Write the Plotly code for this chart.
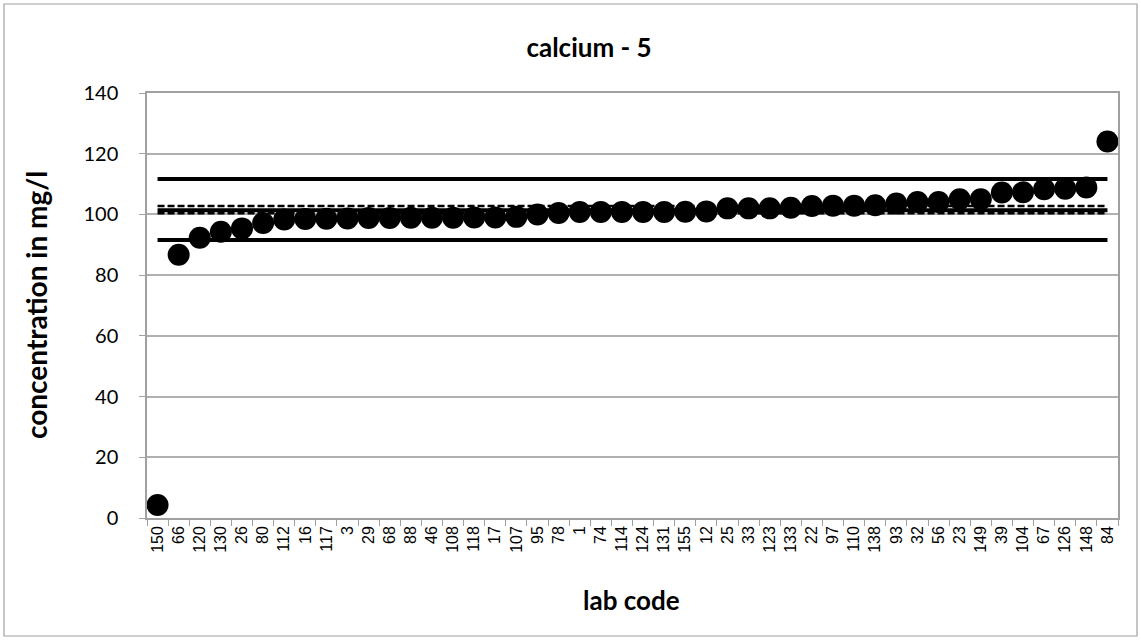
import plotly.graph_objects as go

lab_codes = ["150", "66", "120", "130", "26", "80", "112", "16", "117", "3", "29", "68",
             "88", "46", "108", "118", "17", "107", "95", "78", "1", "74", "114", "124",
             "131", "155", "12", "25", "33", "123", "133", "22", "97", "110", "138", "93",
             "32", "56", "23", "149", "39", "104", "67", "126", "148", "84"]
concentration = [4.3, 86.7, 92.3, 94.3, 95.4, 97.2, 98.3, 98.5, 98.6, 98.7, 98.8, 98.8,
                 98.9, 98.9, 98.9, 99.0, 99.0, 99.2, 100.0, 100.5, 100.8, 100.8, 100.8, 100.8,
                 100.8, 100.9, 101.0, 102.0, 102.0, 102.0, 102.2, 102.8, 102.9, 102.9, 103.0, 103.6,
                 104.1, 104.1, 105.0, 105.0, 107.2, 107.3, 108.3, 108.5, 108.9, 124.0]

assigned_value = 101.4
upper_limit = 111.7
lower_limit = 91.6
upper_uncertainty = 102.8
lower_uncertainty = 100.4

ends = [lab_codes[0], lab_codes[-1]]

fig = go.Figure()
fig.add_trace(go.Scatter(x=lab_codes, y=concentration, mode="markers",
                         marker=dict(color="black", size=22), showlegend=False,
                         cliponaxis=False))
for v in (upper_limit, lower_limit, assigned_value):
    fig.add_trace(go.Scatter(x=ends, y=[v, v], mode="lines",
                             line=dict(color="black", width=4), showlegend=False))
for v in (upper_uncertainty, lower_uncertainty):
    fig.add_trace(go.Scatter(x=ends, y=[v, v], mode="lines",
                             line=dict(color="black", width=2.5, dash="7px,3px"), showlegend=False))

W, H = 1141, 641
L, R, T, B = 147, 23, 93, 123
pw, ph = W - L - R, H - T - B

fig.update_layout(
    width=W, height=H,
    margin=dict(l=L, r=R, t=T, b=B, autoexpand=False),
    paper_bgcolor="white", plot_bgcolor="white",
    title=dict(text="<b>calcium - 5</b>", x=589 / W, xref="container", xanchor="center",
               y=1 - 48 / H, yanchor="middle", font=dict(family="Lato", size=26, color="black")),
    xaxis=dict(type="category", categoryorder="array", categoryarray=lab_codes,
               range=[-0.5, len(lab_codes) - 0.5], autorange=False,
               tickmode="array", tickvals=lab_codes, ticktext=lab_codes,
               tickangle=-90, tickfont=dict(family="Liberation Sans", size=16, color="black"),
               ticks="outside", ticklen=6, tickcolor="#a0a0a0", tickson="boundaries",
               showline=True, linecolor="#a0a0a0", linewidth=1.5, mirror=True,
               showgrid=False, zeroline=False, automargin=False),
    yaxis=dict(range=[0, 140], autorange=False, dtick=20,
               tickfont=dict(family="Lato", size=20, color="black"),
               ticks="outside", ticklen=6, tickcolor="#a0a0a0", ticklabelstandoff=17,
               showline=True, linecolor="#a0a0a0", linewidth=1.5, mirror=True,
               showgrid=True, gridcolor="#b0b0b0", gridwidth=1.5, zeroline=False,
               automargin=False),
    annotations=[
        dict(text="<b>lab code</b>", xref="paper", yref="paper",
             x=(631 - L) / pw, y=(H - B - 600) / ph, xanchor="center", yanchor="middle",
             showarrow=False, font=dict(family="Lato", size=26, color="black")),
        dict(text="<b>concentration in mg/l</b>", xref="paper", yref="paper", textangle=-90,
             x=(36 - L) / pw, y=(H - B - 305) / ph, xanchor="center", yanchor="middle",
             showarrow=False, font=dict(family="Lato", size=28, color="black")),
    ],
    shapes=[dict(type="rect", xref="paper", yref="paper",
                 x0=(4 - L) / pw, x1=(1137 - L) / pw,
                 y0=(H - B - 636) / ph, y1=(H - B - 4) / ph,
                 line=dict(color="#a0a0a0", width=1.2), fillcolor="rgba(0,0,0,0)", layer="below")],
)
fig.write_html("out.html", config={"displayModeBar": False},
               post_script="document.body.style.margin='0';")
